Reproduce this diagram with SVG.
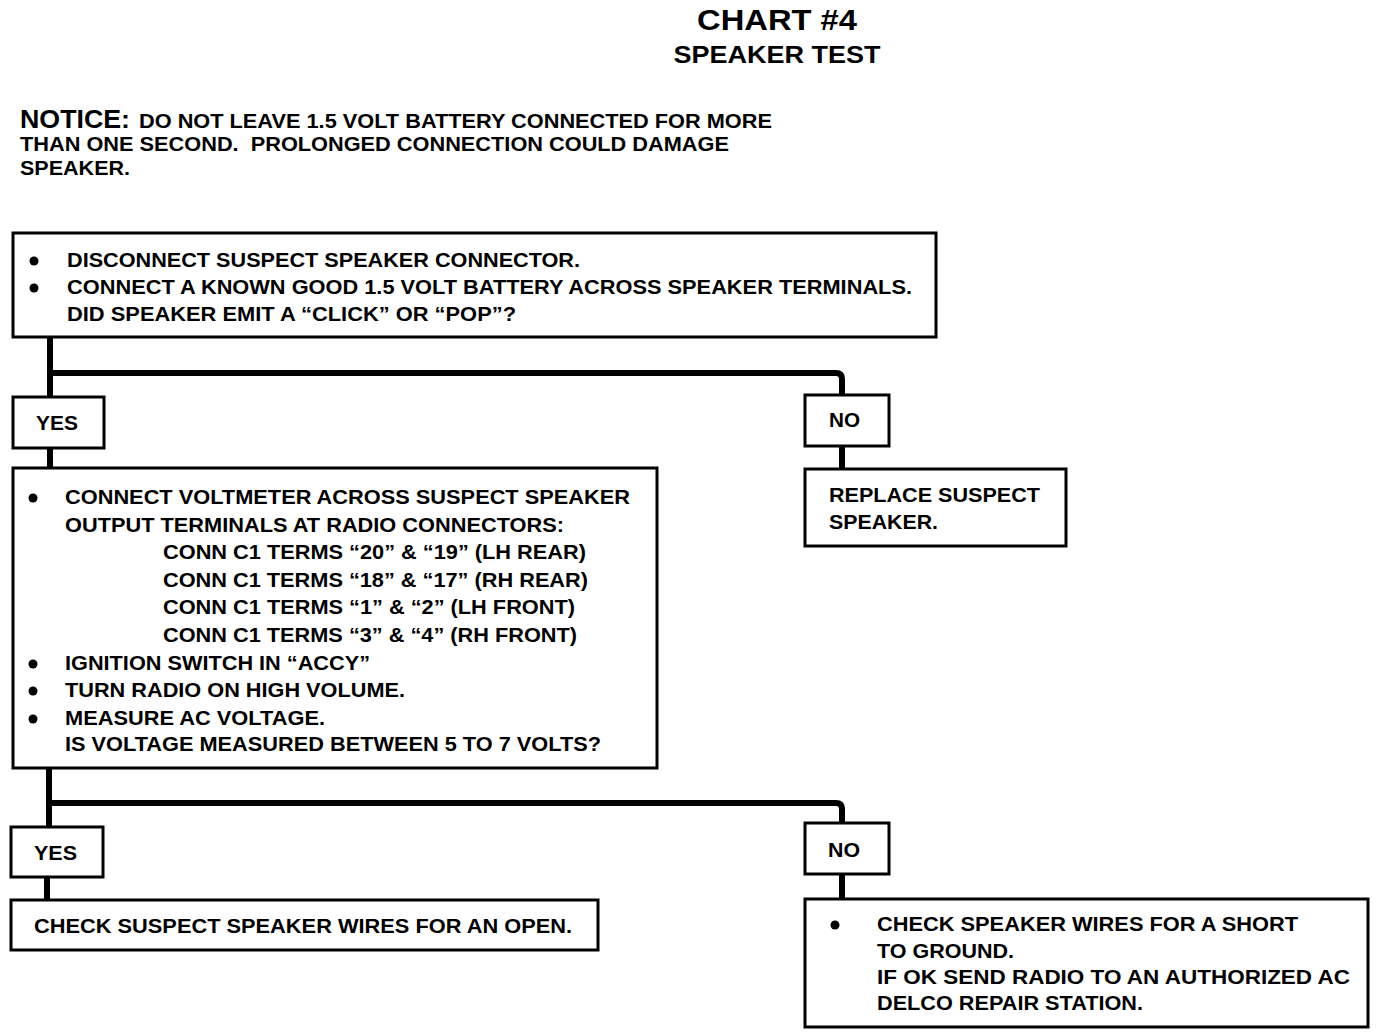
<svg xmlns="http://www.w3.org/2000/svg" width="1376" height="1036" viewBox="0 0 1376 1036">
<style>
text{font-family:"Liberation Sans",Arial,sans-serif;font-weight:bold;fill:#000;}
.t{font-size:20px;}
.box{fill:#fff;stroke:#000;stroke-width:3;}
.conn{fill:none;stroke:#000;stroke-width:6;}
</style>
<rect width="1376" height="1036" fill="#fff"/>
<g id="title">
<text x="777" y="30" font-size="29" text-anchor="middle" textLength="160" lengthAdjust="spacingAndGlyphs">CHART #4</text>
<text x="777" y="63" font-size="24" text-anchor="middle" textLength="207" lengthAdjust="spacingAndGlyphs">SPEAKER TEST</text>
</g>
<g id="notice">
<text x="20" y="128" font-size="26" textLength="110" lengthAdjust="spacingAndGlyphs">NOTICE:</text>
<text class="t" x="139" y="128" textLength="633" lengthAdjust="spacingAndGlyphs">DO NOT LEAVE 1.5 VOLT BATTERY CONNECTED FOR MORE</text>
<text class="t" x="20" y="151" textLength="709" lengthAdjust="spacingAndGlyphs" xml:space="preserve">THAN ONE SECOND.  PROLONGED CONNECTION COULD DAMAGE</text>
<text class="t" x="20" y="175" textLength="110" lengthAdjust="spacingAndGlyphs">SPEAKER.</text>
</g>
<g id="connectors">
<path class="conn" d="M50,337 V397 M50,373 H836 Q842,373 842,379 V395"/>
<path class="conn" d="M50,448 V468"/>
<path class="conn" d="M842,446 V469"/>
<path class="conn" d="M49,768 V826 M49,803 H836 Q842,803 842,809 V823"/>
<path class="conn" d="M47,877 V900"/>
<path class="conn" d="M842,874 V899"/>
</g>
<g id="box1">
<rect class="box" x="13" y="233" width="923" height="104"/>
<circle cx="34" cy="261" r="4.5"/>
<circle cx="34" cy="288" r="4.5"/>
<text class="t" x="67" y="267" textLength="513" lengthAdjust="spacingAndGlyphs">DISCONNECT SUSPECT SPEAKER CONNECTOR.</text>
<text class="t" x="67" y="294" textLength="845" lengthAdjust="spacingAndGlyphs">CONNECT A KNOWN GOOD 1.5 VOLT BATTERY ACROSS SPEAKER TERMINALS.</text>
<text class="t" x="67" y="321" textLength="449" lengthAdjust="spacingAndGlyphs">DID SPEAKER EMIT A “CLICK” OR “POP”?</text>
</g>
<g id="yes1">
<rect class="box" x="13" y="397" width="91" height="51"/>
<text class="t" x="36" y="430" textLength="42" lengthAdjust="spacingAndGlyphs">YES</text>
</g>
<g id="no1">
<rect class="box" x="805" y="395" width="84" height="51"/>
<text class="t" x="829" y="427" textLength="31" lengthAdjust="spacingAndGlyphs">NO</text>
</g>
<g id="replace">
<rect class="box" x="805" y="469" width="261" height="77"/>
<text class="t" x="829" y="502" textLength="211" lengthAdjust="spacingAndGlyphs">REPLACE SUSPECT</text>
<text class="t" x="829" y="529" textLength="109" lengthAdjust="spacingAndGlyphs">SPEAKER.</text>
</g>
<g id="box2">
<rect class="box" x="13" y="468" width="644" height="300"/>
<circle cx="33" cy="498" r="4.5"/>
<circle cx="33" cy="664" r="4.5"/>
<circle cx="33" cy="691" r="4.5"/>
<circle cx="33" cy="719" r="4.5"/>
<text class="t" x="65" y="504" textLength="565" lengthAdjust="spacingAndGlyphs">CONNECT VOLTMETER ACROSS SUSPECT SPEAKER</text>
<text class="t" x="65" y="532" textLength="499" lengthAdjust="spacingAndGlyphs">OUTPUT TERMINALS AT RADIO CONNECTORS:</text>
<text class="t" x="163" y="559" textLength="423" lengthAdjust="spacingAndGlyphs">CONN C1 TERMS “20” &amp; “19” (LH REAR)</text>
<text class="t" x="163" y="587" textLength="425" lengthAdjust="spacingAndGlyphs">CONN C1 TERMS “18” &amp; “17” (RH REAR)</text>
<text class="t" x="163" y="614" textLength="412" lengthAdjust="spacingAndGlyphs">CONN C1 TERMS “1” &amp; “2” (LH FRONT)</text>
<text class="t" x="163" y="642" textLength="414" lengthAdjust="spacingAndGlyphs">CONN C1 TERMS “3” &amp; “4” (RH FRONT)</text>
<text class="t" x="65" y="670" textLength="305" lengthAdjust="spacingAndGlyphs">IGNITION SWITCH IN “ACCY”</text>
<text class="t" x="65" y="697" textLength="340" lengthAdjust="spacingAndGlyphs">TURN RADIO ON HIGH VOLUME.</text>
<text class="t" x="65" y="725" textLength="260" lengthAdjust="spacingAndGlyphs">MEASURE AC VOLTAGE.</text>
<text class="t" x="65" y="751" textLength="536" lengthAdjust="spacingAndGlyphs">IS VOLTAGE MEASURED BETWEEN 5 TO 7 VOLTS?</text>
</g>
<g id="yes2">
<rect class="box" x="11" y="827" width="92" height="50"/>
<text class="t" x="34" y="860" textLength="43" lengthAdjust="spacingAndGlyphs">YES</text>
</g>
<g id="no2">
<rect class="box" x="805" y="823" width="84" height="51"/>
<text class="t" x="828" y="857" textLength="32" lengthAdjust="spacingAndGlyphs">NO</text>
</g>
<g id="check-open">
<rect class="box" x="11" y="900" width="587" height="50"/>
<text class="t" x="34" y="933" textLength="538" lengthAdjust="spacingAndGlyphs">CHECK SUSPECT SPEAKER WIRES FOR AN OPEN.</text>
</g>
<g id="check-short">
<rect class="box" x="805" y="899" width="563" height="128"/>
<circle cx="835" cy="925" r="4.5"/>
<text class="t" x="877" y="931" textLength="421" lengthAdjust="spacingAndGlyphs">CHECK SPEAKER WIRES FOR A SHORT</text>
<text class="t" x="877" y="958" textLength="137" lengthAdjust="spacingAndGlyphs">TO GROUND.</text>
<text class="t" x="877" y="984" textLength="473" lengthAdjust="spacingAndGlyphs">IF OK SEND RADIO TO AN AUTHORIZED AC</text>
<text class="t" x="877" y="1010" textLength="266" lengthAdjust="spacingAndGlyphs">DELCO REPAIR STATION.</text>
</g>
</svg>
